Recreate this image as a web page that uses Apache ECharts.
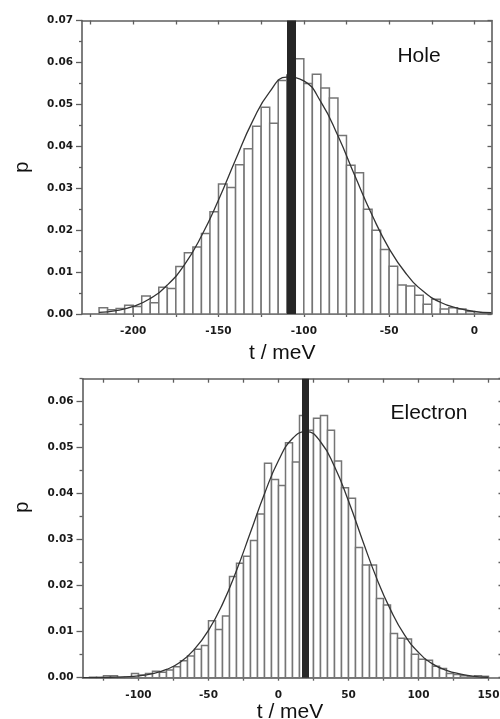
<!DOCTYPE html>
<html>
<head>
<meta charset="utf-8">
<script src="https://cdn.jsdelivr.net/npm/echarts@6/dist/echarts.min.js"></script>
<style>
html,body{margin:0;padding:0;background:#fff;}
#chart{width:500px;height:719px;}
</style>
</head>
<body>
<div id="chart"></div>
<script>
// ---------- data ----------
const BIN_WIDTH = 5;

// Hole histogram (bin start, meV) and probability per bin
const holeBins = [-220,-215,-210,-205,-200,-195,-190,-185,-180,-175,-170,-165,-160,-155,-150,-145,-140,-135,-130,-125,-120,-115,-110,-105,-100,-95,-90,-85,-80,-75,-70,-65,-60,-55,-50,-45,-40,-35,-30,-25,-20,-15,-10,-5];
const holeValues = [0.0015,0.0010,0.0013,0.0021,0.0018,0.0043,0.0027,0.0064,0.0061,0.0113,0.0146,0.0160,0.0192,0.0244,0.0310,0.0302,0.0356,0.0394,0.0448,0.0493,0.0455,0.0557,0.0570,0.0609,0.0550,0.0572,0.0539,0.0515,0.0426,0.0355,0.0337,0.0250,0.0200,0.0154,0.0114,0.0069,0.0067,0.0045,0.0023,0.0035,0.0012,0.0015,0.0012,0.0006];
// Hole fitted curve
const holeCurveX = [-220,-210,-200,-190,-180,-170,-160,-150,-140,-130,-120,-110,-100,-90,-80,-70,-60,-50,-40,-30,-20,-10,0,10];
const holeCurveY = [0.0004,0.0008,0.0018,0.0037,0.0069,0.0117,0.0186,0.0272,0.0368,0.0460,0.0530,0.0565,0.0556,0.0506,0.0425,0.0329,0.0236,0.0156,0.0096,0.0054,0.0028,0.0014,0.0006,0.0003];
const holeMean = -107.5;

// Electron histogram
const elecBins = [-135,-130,-125,-120,-115,-110,-105,-100,-95,-90,-85,-80,-75,-70,-65,-60,-55,-50,-45,-40,-35,-30,-25,-20,-15,-10,-5,0,5,10,15,20,25,30,35,40,45,50,55,60,65,70,75,80,85,90,95,100,105,110,115,120,125,130,135,140,145];
const elecValues = [0.0001,0.0001,0.0004,0.0004,0.0001,0.0001,0.0009,0.0006,0.0009,0.0014,0.0012,0.0017,0.0024,0.0037,0.0047,0.0062,0.0070,0.0124,0.0105,0.0134,0.0220,0.0249,0.0264,0.0298,0.0356,0.0466,0.0431,0.0418,0.0511,0.0469,0.0570,0.0538,0.0564,0.0570,0.0538,0.0471,0.0413,0.0390,0.0283,0.0245,0.0245,0.0172,0.0158,0.0096,0.0086,0.0084,0.0051,0.0040,0.0038,0.0025,0.0020,0.0009,0.0007,0.0004,0.0002,0.0004,0.0003];
const elecCurveX = [-140,-130,-120,-110,-100,-90,-80,-70,-60,-50,-40,-30,-20,-10,0,10,20,30,40,50,60,70,80,90,100,110,120,130,140,150];
const elecCurveY = [0.0000,0.0000,0.0001,0.0002,0.0004,0.0009,0.0018,0.0034,0.0062,0.0103,0.0160,0.0233,0.0316,0.0400,0.0472,0.0520,0.0535,0.0513,0.0459,0.0384,0.0299,0.0217,0.0148,0.0093,0.0055,0.0030,0.0016,0.0008,0.0003,0.0001];
const elecMean = 18.8;

// ticks / labels
const holeXTicks = [-225,-200,-175,-150,-125,-100,-75,-50,-25,0];
const holeXLabels = [-200,-150,-100,-50,0];
const elecXTicks = [-125,-100,-75,-50,-25,0,25,50,75,100,125,150];
const elecXLabels = [-100,-50,0,50,100,150];
const holeYMajor = [0,0.01,0.02,0.03,0.04,0.05,0.06,0.07];
const holeYMinor = [0.005,0.015,0.025,0.035,0.045,0.055,0.065];
const elecYMajor = [0,0.01,0.02,0.03,0.04,0.05,0.06];
const elecYMinor = [0.005,0.015,0.025,0.035,0.045,0.055,0.065];
const holeYAll = [0,0.005,0.01,0.015,0.02,0.025,0.03,0.035,0.04,0.045,0.05,0.055,0.06,0.065,0.07];
const elecYAll = [0,0.005,0.01,0.015,0.02,0.025,0.03,0.035,0.04,0.045,0.05,0.055,0.06,0.065];

// ---------- styling helpers ----------
const AX = '#5e5e5e';
const labelFont = {fontFamily:'DejaVu Sans', fontSize:10.5, fontWeight:'bold', color:'#1a1a1a'};
const nameFont = {fontFamily:'Liberation Sans', fontSize:21, color:'#111'};

function xMain(grid, min, max, ticks, labels, gap, pad, margin){
  return {type:'value', gridIndex:grid, position:'bottom', min:min, max:max,
    name:'t / meV', nameLocation:'middle', nameGap:gap, nameTextStyle:Object.assign({padding:pad}, nameFont),
    axisLine:{show:true, onZero:false, lineStyle:{color:AX, width:1.6}},
    axisTick:{show:true, inside:false, length:3, customValues:ticks, lineStyle:{color:AX, width:1.3}},
    axisLabel:{show:true, margin:margin, customValues:labels, formatter:v=>String(v), ...labelFont},
    splitLine:{show:false}};
}
function xTop(grid, min, max, ticks){
  return {type:'value', gridIndex:grid, position:'top', min:min, max:max,
    axisLine:{show:true, onZero:false, lineStyle:{color:AX, width:1.6}},
    axisTick:{show:true, inside:true, length:4, customValues:ticks, lineStyle:{color:AX, width:1.3}},
    axisLabel:{show:false}, splitLine:{show:false}};
}
function yMain(grid, max, major, pad){
  return {type:'value', gridIndex:grid, position:'left', min:0, max:max,
    name:'p', nameLocation:'middle', nameGap:50, nameTextStyle:Object.assign({padding:pad}, nameFont, {fontSize:20}),
    axisLine:{show:true, onZero:false, lineStyle:{color:AX, width:1.6}},
    axisTick:{show:true, inside:false, length:6, customValues:major, lineStyle:{color:AX, width:1.3}},
    axisLabel:{show:true, margin:9, customValues:major, formatter:v=>v.toFixed(2), ...labelFont},
    splitLine:{show:false}};
}
function yMinor(grid, max, minor){
  return {type:'value', gridIndex:grid, position:'left', min:0, max:max,
    axisLine:{show:false, onZero:false},
    axisTick:{show:true, inside:false, length:3, customValues:minor, lineStyle:{color:AX, width:1.3}},
    axisLabel:{show:false}, splitLine:{show:false}};
}
function yRight(grid, max, all){
  return {type:'value', gridIndex:grid, position:'right', min:0, max:max,
    axisLine:{show:true, onZero:false, lineStyle:{color:AX, width:1.6}},
    axisTick:{show:true, inside:true, length:4, customValues:all, lineStyle:{color:AX, width:1.3}},
    axisLabel:{show:false}, splitLine:{show:false}};
}

function bars(xi, yi, bins, vals){
  return {type:'custom', xAxisIndex:xi, yAxisIndex:yi, z:2,
    data: bins.map((b,i)=>[b, vals[i]]),
    encode:{x:0, y:1},
    renderItem:(params, api)=>{
      const x0 = api.value(0), v = api.value(1);
      const a = api.coord([x0, 0]);
      const b = api.coord([x0 + BIN_WIDTH, v]);
      return {type:'rect', shape:{x:a[0], y:b[1], width:b[0]-a[0], height:a[1]-b[1]},
        style:{fill:'#ffffff', stroke:'#757575', lineWidth:1.5}};
    }};
}
function curve(xi, yi, xs, ys){
  return {type:'line', xAxisIndex:xi, yAxisIndex:yi, z:3, smooth:true, showSymbol:false, silent:true,
    data: xs.map((x,i)=>[x, ys[i]]),
    lineStyle:{color:'#333', width:1.3}};
}
function meanLine(xi, yi, x, w){
  return {type:'line', xAxisIndex:xi, yAxisIndex:yi, z:4, data:[], silent:true,
    markLine:{symbol:['none','none'], silent:true, label:{show:false},
      lineStyle:{color:'#262626', width:w, type:'solid'}, emphasis:{disabled:true},
      data:[{xAxis:x}]}};
}

const chart = echarts.init(document.getElementById('chart'), null, {renderer:'canvas'});
chart.setOption({
  animation:false,
  backgroundColor:'#ffffff',
  grid:[
    {left:82, right:8.5, top:20.5, bottom:405, outerBoundsMode:'none', containLabel:false},
    {left:82.5, right:-2.5, top:378.7, bottom:41.3, outerBoundsMode:'none', containLabel:false}
  ],
  xAxis:[
    xMain(0, -230, 10, holeXTicks, holeXLabels, 29, [0,9,0,0], 12),
    xTop(0, -230, 10, holeXTicks),
    xMain(1, -140, 160, elecXTicks, elecXLabels, 23, [0,5,0,0], 12),
    xTop(1, -140, 160, elecXTicks)
  ],
  yAxis:[
    yMain(0, 0.07, holeYMajor, [0,0,0,0]),
    yMinor(0, 0.07, holeYMinor),
    yRight(0, 0.07, holeYAll),
    yMain(1, 0.065, elecYMajor, [0,0,0,42]),
    yMinor(1, 0.065, elecYMinor),
    yRight(1, 0.065, elecYAll)
  ],
  series:[
    bars(0, 0, holeBins, holeValues),
    curve(0, 0, holeCurveX, holeCurveY),
    meanLine(0, 0, holeMean, 9),
    bars(2, 3, elecBins, elecValues),
    curve(2, 3, elecCurveX, elecCurveY),
    meanLine(2, 3, elecMean, 7)
  ],
  graphic:[
    {type:'text', x:419, y:56, z:10, style:{text:'Hole', font:'21px "Liberation Sans"', fill:'#111', align:'center', verticalAlign:'middle'}},
    {type:'text', x:429, y:413, z:10, style:{text:'Electron', font:'21px "Liberation Sans"', fill:'#111', align:'center', verticalAlign:'middle'}}
  ]
});
</script>
</body>
</html>
